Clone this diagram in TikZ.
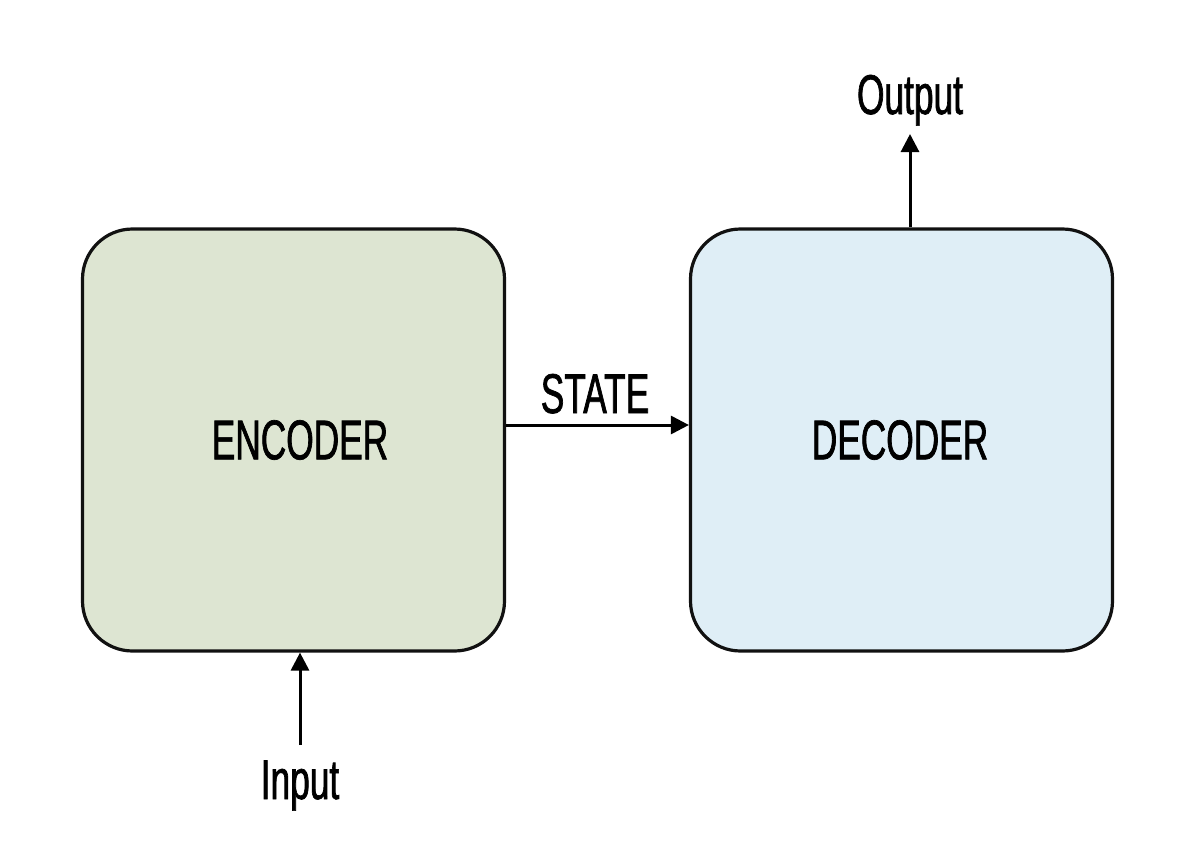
\documentclass[tikz,border=0pt]{standalone}
\usepackage{fontspec}
\setmainfont[FakeStretch=0.63,FakeBold=1.2]{Liberation Sans}
\usetikzlibrary{arrows.meta}
\definecolor{encfill}{HTML}{DDE5D2}
\definecolor{decfill}{HTML}{DFEEF6}
\definecolor{edge}{HTML}{111111}
\begin{document}
\begin{tikzpicture}[x=0.5pt,y=-0.5pt,
  blk/.style={draw=edge,line width=1.6pt,rounded corners=25pt,minimum width=211pt,minimum height=211pt,inner sep=0pt},
  lbl/.style={font=\fontsize{28}{32}\selectfont,text=black,inner sep=0pt},
  conn/.style={line width=1.5pt,draw=black,-{Triangle[length=9pt,width=9pt]}}]
\useasboundingbox[fill=white] (0,0) rectangle (1194,862);
\node[blk,fill=encfill] (enc) at (293.5,440) {};
\node[blk,fill=decfill] (dec) at (901.5,440) {};
\node[lbl] (enctxt) at (300,440) {ENCODER};
\node[lbl] (dectxt) at (900,440) {DECODER};
\node[lbl,anchor=base] (state) at (595,413) {STATE};
\node[lbl,anchor=base] (out) at (910,114) {Output};
\node[lbl,anchor=base] (in) at (300,799) {Input};
\coordinate (inbot) at (300,745);
\coordinate (outtop) at (910,134);
\draw[conn] (enc.east |- 0,425) -- (dec.west |- 0,425);
\draw[conn] (inbot) -- (enc.south -| inbot);
\draw[conn] (dec.north -| outtop) -- (outtop);
\end{tikzpicture}
\end{document}
